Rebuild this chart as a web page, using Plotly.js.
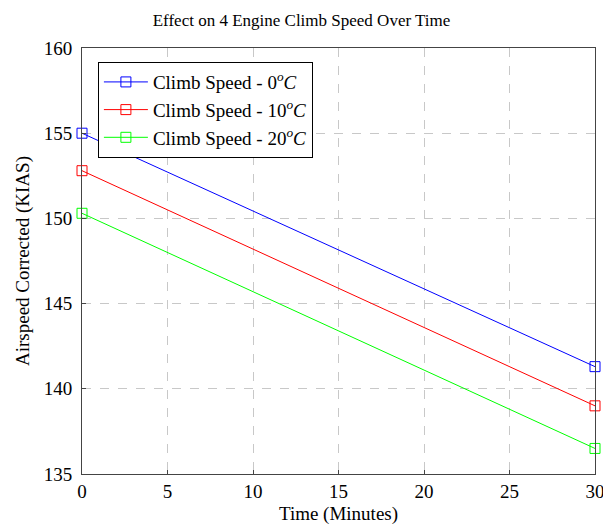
<!DOCTYPE html>
<html>
<head>
<meta charset="utf-8">
<script src="https://cdn.plot.ly/plotly-3.0.1.min.js"></script>
<style>body{margin:0;padding:0;background:#fff}</style>
</head>
<body>
<div id="chart" style="width:603px;height:531px"></div>
<script>
const timeMinutes = [0, 30];
const speed0C = [155.0, 141.3];
const speed10C = [152.8, 139.0];
const speed20C = [150.3, 136.5];
const seriesNames = [
  'Climb Speed - 0<sup><i>o</i></sup><i>C</i>',
  'Climb Speed - 10<sup><i>o</i></sup><i>C</i>',
  'Climb Speed - 20<sup><i>o</i></sup><i>C</i>'
];
const colors = ['#0000ff', '#ff0000', '#00ff00'];
const allSeries = [speed0C, speed10C, speed20C];

const traces = allSeries.map((ys, i) => ({
  x: timeMinutes, y: ys, name: seriesNames[i], type: 'scatter', mode: 'lines+markers',
  line: {color: colors[i], width: 1},
  marker: {symbol: 'square-open', size: 10, color: colors[i], line: {width: 1, color: colors[i]}},
  cliponaxis: false
}));

const font = {family: '"Liberation Serif", "Times New Roman", serif', color: '#000'};
const layout = {
  width: 603, height: 531,
  margin: {l: 82, r: 8, t: 48, b: 57},
  paper_bgcolor: '#fff', plot_bgcolor: '#fff',
  font: Object.assign({size: 19}, font),
  title: {text: 'Effect on 4 Engine Climb Speed Over Time', font: Object.assign({size: 17}, font), x: 0.5, xanchor: 'center', y: 0.963, yanchor: 'middle'},
  xaxis: {
    range: [0, 30], dtick: 5, tick0: 0,
    showline: true, mirror: true, linecolor: '#444', linewidth: 1,
    showgrid: true, gridcolor: '#c8c8c8', griddash: 'dash', gridwidth: 1,
    zeroline: false, ticks: 'inside', ticklen: 4, tickcolor: '#444',
    ticklabeloverflow: 'allow', automargin: false,
    tickfont: Object.assign({size: 19}, font),
    title: {text: 'Time (Minutes)', font: Object.assign({size: 19}, font), standoff: 5}
  },
  yaxis: {
    range: [135, 160], dtick: 5, tick0: 135,
    showline: true, mirror: true, linecolor: '#444', linewidth: 1,
    showgrid: true, gridcolor: '#c8c8c8', griddash: 'dash', gridwidth: 1,
    zeroline: false, ticks: 'inside', ticklen: 4, tickcolor: '#444',
    ticklabelstandoff: 5, automargin: false,
    tickfont: Object.assign({size: 19}, font),
    title: {text: 'Airspeed Corrected (KIAS)', font: Object.assign({size: 19}, font), standoff: 9}
  },
  legend: {
    x: 0.031, y: 0.967, xanchor: 'left', yanchor: 'top',
    bgcolor: '#fff', bordercolor: '#000', borderwidth: 1,
    font: Object.assign({size: 19}, font), tracegroupgap: 0, itemwidth: 44
  },
  showlegend: true
};
Plotly.newPlot('chart', traces, layout, {displayModeBar: false, staticPlot: true});
</script>
</body>
</html>
